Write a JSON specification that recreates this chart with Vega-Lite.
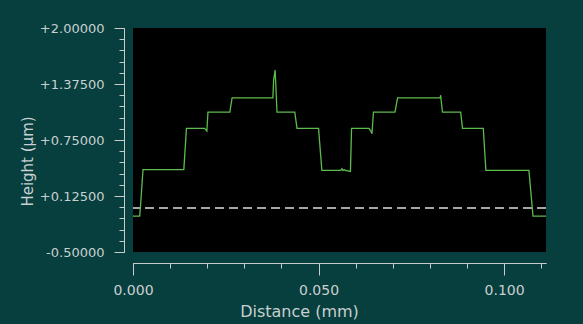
{
  "$schema": "https://vega.github.io/schema/vega-lite/v6.json",
  "width": 413,
  "height": 224,
  "autosize": {"type": "none"},
  "padding": {"left": 133, "top": 28, "right": 37, "bottom": 72},
  "background": "#073e3e",
  "config": {
    "view": {"stroke": null, "fill": "#000000"},
    "axis": {
      "domainColor": "#c8cccc",
      "tickColor": "#c8cccc",
      "labelColor": "#c8d0d0",
      "titleColor": "#c8d0d0",
      "labelFont": "DejaVu Sans",
      "titleFont": "DejaVu Sans",
      "titleFontWeight": "normal",
      "grid": false,
      "labelFlush": false,
      "labelOverlap": false
    }
  },
  "data": {
    "values": [
      {"d": 0.0, "h": -0.10},
      {"d": 0.0018, "h": -0.10},
      {"d": 0.0020, "h": 0.0},
      {"d": 0.0027, "h": 0.42},
      {"d": 0.0137, "h": 0.42},
      {"d": 0.0144, "h": 0.88},
      {"d": 0.0193, "h": 0.88},
      {"d": 0.0197, "h": 0.86},
      {"d": 0.0199, "h": 0.85},
      {"d": 0.0202, "h": 1.06},
      {"d": 0.0261, "h": 1.06},
      {"d": 0.0267, "h": 1.22},
      {"d": 0.0377, "h": 1.22},
      {"d": 0.0379, "h": 1.42},
      {"d": 0.0383, "h": 1.53},
      {"d": 0.0385, "h": 1.35},
      {"d": 0.0388, "h": 1.06},
      {"d": 0.0436, "h": 1.06},
      {"d": 0.0442, "h": 0.88},
      {"d": 0.0500, "h": 0.88},
      {"d": 0.0509, "h": 0.41},
      {"d": 0.0560, "h": 0.41},
      {"d": 0.0563, "h": 0.43},
      {"d": 0.0566, "h": 0.41},
      {"d": 0.0569, "h": 0.42},
      {"d": 0.0572, "h": 0.41},
      {"d": 0.0586, "h": 0.40},
      {"d": 0.0589, "h": 0.88},
      {"d": 0.0636, "h": 0.88},
      {"d": 0.0641, "h": 0.85},
      {"d": 0.0644, "h": 0.82},
      {"d": 0.0648, "h": 1.06},
      {"d": 0.0706, "h": 1.06},
      {"d": 0.0713, "h": 1.22},
      {"d": 0.0828, "h": 1.22},
      {"d": 0.0829, "h": 1.25},
      {"d": 0.0834, "h": 1.06},
      {"d": 0.0883, "h": 1.06},
      {"d": 0.0888, "h": 0.88},
      {"d": 0.0944, "h": 0.88},
      {"d": 0.0951, "h": 0.41},
      {"d": 0.1067, "h": 0.41},
      {"d": 0.1078, "h": -0.10},
      {"d": 0.1113, "h": -0.10}
    ]
  },
  "layer": [
    {
      "mark": {"type": "line", "strokeOpacity": 0},
      "encoding": {
        "x": {
          "field": "d", "type": "quantitative",
          "scale": {"domain": [0, 0.1113], "nice": false, "zero": false},
          "axis": {
            "orient": "bottom", "offset": 11, "title": null, "labels": false,
            "tickSize": 5,
            "values": [0, 0.01, 0.02, 0.03, 0.04, 0.05, 0.06, 0.07, 0.08, 0.09, 0.1, 0.11]
          }
        },
        "y": {
          "field": "h", "type": "quantitative",
          "scale": {"domain": [-0.5, 2.0], "nice": false, "zero": false},
          "axis": {
            "orient": "left", "offset": 9, "title": null, "labels": false,
            "tickSize": 5,
            "values": [-0.5, -0.375, -0.25, -0.125, 0, 0.125, 0.25, 0.375, 0.5, 0.625, 0.75, 0.875, 1.0, 1.125, 1.25, 1.375, 1.5, 1.625, 1.75, 1.875, 2.0]
          }
        }
      }
    },
    {
      "mark": {"type": "rule", "color": "#a8a8a8", "strokeWidth": 2, "strokeDash": [9, 5]},
      "encoding": {
        "y": {"datum": -0.01, "type": "quantitative", "axis": null}
      }
    },
    {
      "mark": {"type": "line", "color": "#5cbc4c", "strokeWidth": 1.3},
      "encoding": {
        "x": {
          "field": "d", "type": "quantitative",
          "scale": {"domain": [0, 0.1113], "nice": false, "zero": false},
          "axis": {
            "orient": "bottom", "offset": 11,
            "values": [0, 0.05, 0.1],
            "format": ".3f",
            "tickSize": 12,
            "labelFontSize": 14,
            "labelPadding": 8,
            "title": "Distance (mm)",
            "titleFontSize": 16,
            "titleX": 166,
            "titleY": 48,
            "titleAlign": "center",
            "titleBaseline": "middle"
          }
        },
        "y": {
          "field": "h", "type": "quantitative",
          "scale": {"domain": [-0.5, 2.0], "nice": false, "zero": false},
          "axis": {
            "orient": "left", "offset": 9,
            "values": [2.0, 1.375, 0.75, 0.125, -0.5],
            "labelExpr": "(datum.value >= 0 ? '+' : '-') + format(abs(datum.value), '.5f')",
            "tickSize": 10,
            "labelFontSize": 13,
            "labelPadding": 10,
            "title": "Height (µm)",
            "titleFontSize": 15,
            "titleAngle": 270,
            "titleX": -97,
            "titleY": 133,
            "titleAlign": "center",
            "titleBaseline": "middle"
          }
        }
      }
    }
  ],
  "resolve": {"axis": {"x": "independent", "y": "independent"}}
}
